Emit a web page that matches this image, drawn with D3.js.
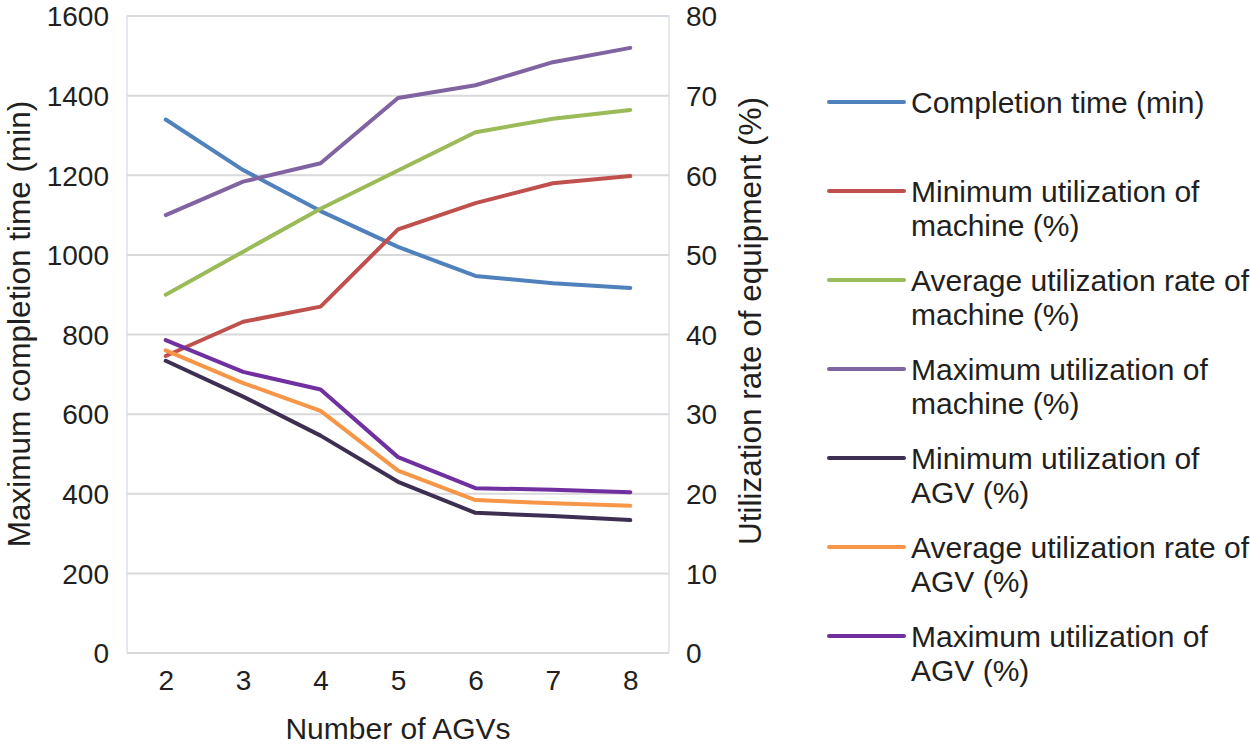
<!DOCTYPE html>
<html>
<head>
<meta charset="utf-8">
<script src="https://cdn.jsdelivr.net/npm/d3@7"></script>
<style>
  body { margin: 0; background: #fff; }
  svg text { font-family: "Liberation Sans", Arial, sans-serif; fill: #231f20; }
</style>
</head>
<body>
<div id="chart"></div>
<script>
var agvs = [2, 3, 4, 5, 6, 7, 8];
var completionTime = [1340, 1213, 1110, 1020, 947, 929, 917];
var minMachine = [37.3, 41.6, 43.5, 53.2, 56.5, 59.0, 59.9];
var avgMachine = [45.0, 50.4, 55.8, 60.6, 65.4, 67.1, 68.2];
var maxMachine = [55.0, 59.2, 61.5, 69.7, 71.3, 74.2, 76.0];
var minAgv = [36.7, 32.2, 27.3, 21.5, 17.6, 17.2, 16.7];
var avgAgv = [38.0, 33.9, 30.4, 22.9, 19.2, 18.8, 18.5];
var maxAgv = [39.3, 35.3, 33.1, 24.6, 20.7, 20.5, 20.2];
var leftTicks = [0, 200, 400, 600, 800, 1000, 1200, 1400, 1600];
var rightTicks = [0, 10, 20, 30, 40, 50, 60, 70, 80];

var series = [
  { name: ["Completion time (min)"], values: completionTime, axis: "left", color: "#4f81bd" },
  { name: ["Minimum utilization of", "machine (%)"], values: minMachine, axis: "right", color: "#c0504d" },
  { name: ["Average utilization rate of", "machine (%)"], values: avgMachine, axis: "right", color: "#9bbb59" },
  { name: ["Maximum utilization of", "machine (%)"], values: maxMachine, axis: "right", color: "#8064a2" },
  { name: ["Minimum utilization of", "AGV (%)"], values: minAgv, axis: "right", color: "#3d2f52" },
  { name: ["Average utilization rate of", "AGV (%)"], values: avgAgv, axis: "right", color: "#f79646" },
  { name: ["Maximum utilization of", "AGV (%)"], values: maxAgv, axis: "right", color: "#7030a0" }
];

var W = 1250, H = 747;
var plot = { left: 127, right: 669, top: 16, bottom: 653 };

var svg = d3.select("#chart").append("svg")
  .attr("width", W).attr("height", H);

var x = d3.scalePoint()
  .domain(agvs)
  .range([plot.left, plot.right])
  .padding(0.5);

var yLeft = d3.scaleLinear().domain([0, 1600]).range([plot.bottom, plot.top]);
var yRight = d3.scaleLinear().domain([0, 80]).range([plot.bottom, plot.top]);

// gridlines
svg.append("g").selectAll("line")
  .data(leftTicks)
  .enter().append("line")
  .attr("x1", plot.left).attr("x2", plot.right)
  .attr("y1", function(d){ return yLeft(d); })
  .attr("y2", function(d){ return yLeft(d); })
  .style("stroke", "#d9d9d9")
  .style("stroke-width", 2);

// plot frame (left, top, right)
svg.append("path")
  .attr("d", "M" + plot.left + "," + plot.bottom + "V" + plot.top + "H" + plot.right + "V" + plot.bottom)
  .style("fill", "none")
  .style("stroke", "#d3dae6")
  .style("stroke-width", 1.2);

// left axis
var leftAxis = svg.append("g")
  .attr("transform", "translate(" + plot.left + ",0)")
  .call(d3.axisLeft(yLeft).tickValues(leftTicks).tickFormat(d3.format("d")).tickSize(0).tickPadding(18));
leftAxis.select(".domain").remove();
leftAxis.selectAll("text").style("font-size", "28px").attr("dy", "0.35em");

// right axis
var rightAxis = svg.append("g")
  .attr("transform", "translate(" + plot.right + ",0)")
  .call(d3.axisRight(yRight).tickValues(rightTicks).tickSize(0).tickPadding(17));
rightAxis.select(".domain").remove();
rightAxis.selectAll("text").style("font-size", "28px").attr("dy", "0.35em");

// x axis
var xAxis = svg.append("g")
  .attr("transform", "translate(0," + plot.bottom + ")")
  .call(d3.axisBottom(x).tickSize(0).tickPadding(17));
xAxis.select(".domain").remove();
xAxis.selectAll("text").style("font-size", "28px").attr("dy", "0.71em");

// axis titles
svg.append("text")
  .attr("transform", "translate(30,324) rotate(-90)")
  .style("text-anchor", "middle")
  .style("font-size", "31.5px")
  .text("Maximum completion time (min)");

svg.append("text")
  .attr("transform", "translate(761,321) rotate(-90)")
  .style("text-anchor", "middle")
  .style("font-size", "31.5px")
  .text("Utilization rate of equipment (%)");

svg.append("text")
  .attr("x", (plot.left + plot.right) / 2)
  .attr("y", 739)
  .style("text-anchor", "middle")
  .style("font-size", "30px")
  .text("Number of AGVs");

// lines
var lineGroup = svg.append("g");
series.forEach(function(s){
  var y = s.axis === "left" ? yLeft : yRight;
  var line = d3.line()
    .x(function(d, i){ return x(agvs[i]); })
    .y(function(d){ return y(d); });
  lineGroup.append("path")
    .datum(s.values)
    .attr("d", line)
    .style("fill", "none")
    .style("stroke", s.color)
    .style("stroke-width", 4)
    .style("stroke-linejoin", "round")
    .style("stroke-linecap", "round");
});

// legend
var legendY = [102, 191, 280, 369, 458, 547, 636];
var legend = svg.append("g").selectAll("g")
  .data(series)
  .enter().append("g")
  .attr("transform", function(d, i){ return "translate(829," + legendY[i] + ")"; });

legend.append("line")
  .attr("x1", 0).attr("x2", 75)
  .attr("y1", 0).attr("y2", 0)
  .style("stroke", function(d){ return d.color; })
  .style("stroke-width", 4)
  .style("stroke-linecap", "round");

legend.each(function(d){
  var t = d3.select(this).append("text")
    .attr("x", 82)
    .attr("y", 11)
    .style("font-size", "30px");
  d.name.forEach(function(ln, j){
    t.append("tspan").attr("x", 82).attr("dy", j === 0 ? 0 : 34).text(ln);
  });
});
</script>
</body>
</html>
